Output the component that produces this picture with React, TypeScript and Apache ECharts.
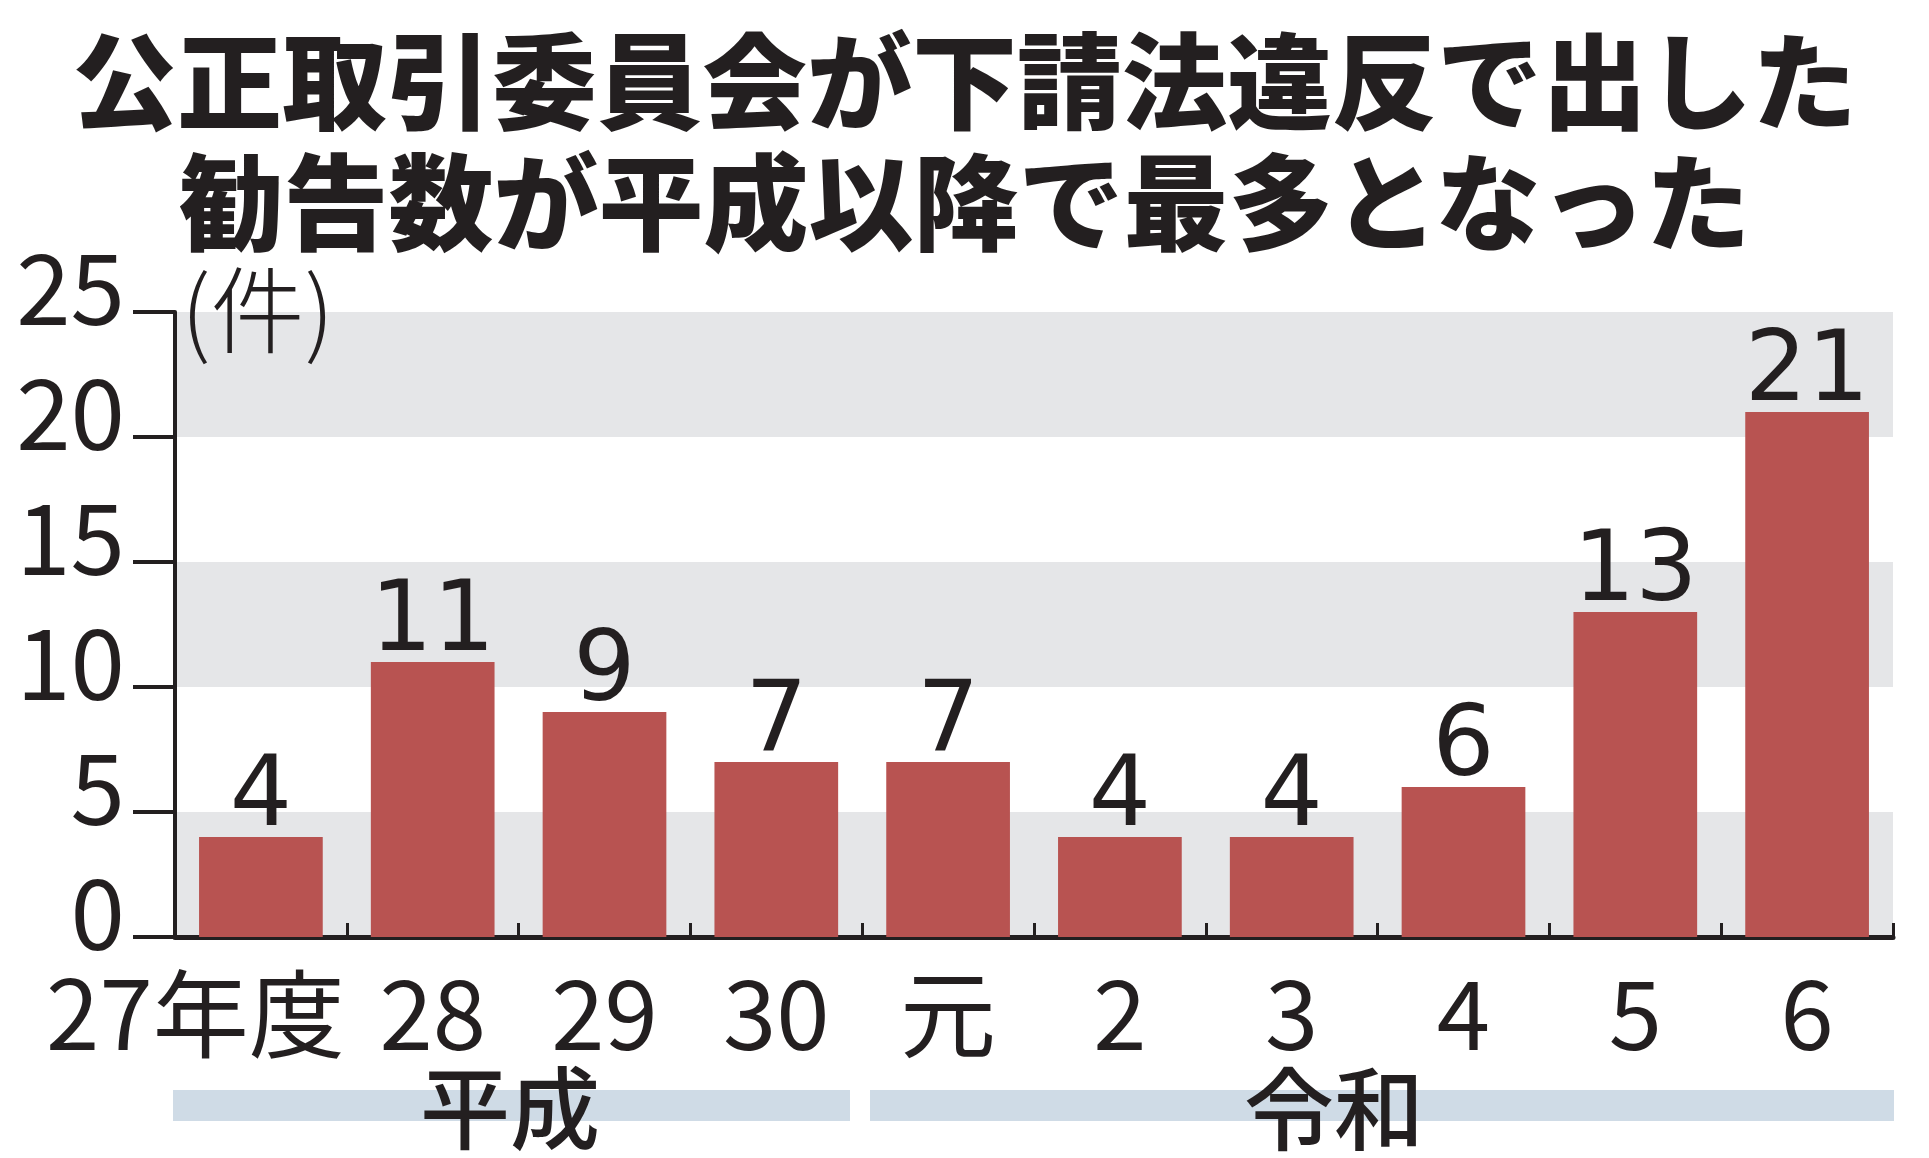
import React, { useEffect, useRef } from "react";
import * as echarts from "echarts";

const categories = ["27年度", "28", "29", "30", "元", "2", "3", "4", "5", "6"];
const values = [4, 11, 9, 7, 7, 4, 4, 6, 13, 21];
const titleLines = ["公正取引委員会が下請法違反で出した", "勧告数が平成以降で最多となった"];
const unitLabel = "(件)";
const eras = ["平成", "令和"];

const INK = "#231f20";
const NARROW = "'Liberation Sans Narrow', 'Noto Sans CJK JP', sans-serif";
const CJK = "'Noto Sans CJK JP', sans-serif";

export default function App() {
  const ref = useRef<HTMLDivElement>(null);
  useEffect(() => {
    if (!ref.current) return;
    const chart = echarts.init(ref.current, null, { renderer: "svg" });
    chart.setOption({
      animation: false,
      backgroundColor: "#ffffff",
      grid: { left: 175, right: 36, top: 312, bottom: 221, containLabel: false },
      title: {
        text: titleLines.join("\n"),
        left: "center",
        top: 9,
        textStyle: {
          fontFamily: CJK,
          fontWeight: 900,
          fontSize: 105,
          lineHeight: 121,
          color: INK,
        },
      },
      xAxis: {
        type: "category",
        data: categories.map((c, i) =>
          i === 0 ? { value: c, textStyle: { padding: [0, 131, 0, 0] } } : c
        ),
        axisLine: { show: true, lineStyle: { color: INK, width: 5 } },
        axisTick: { show: true, inside: true, length: 14, lineStyle: { color: INK, width: 3 } },
        axisLabel: {
          interval: 0,
          hideOverlap: false,
          margin: 23,
          fontFamily: NARROW,
          fontSize: 96,
          color: INK,
        },
        splitLine: { show: false },
      },
      yAxis: {
        type: "value",
        min: 0,
        max: 25,
        interval: 5,
        axisLine: { show: true, lineStyle: { color: INK, width: 4 } },
        axisTick: { show: true, inside: false, length: 42, lineStyle: { color: INK, width: 4 } },
        axisLabel: {
          margin: 50,
          fontFamily: NARROW,
          fontSize: 98,
          color: INK,
          verticalAlign: "bottom",
          lineHeight: 60,
        },
        splitLine: { show: false },
        splitArea: { show: true, areaStyle: { color: ["#e5e6e8", "#ffffff"] } },
      },
      series: [
        {
          type: "bar",
          data: values,
          barCategoryGap: "28%",
          itemStyle: { color: "#b85351" },
          label: {
            show: true,
            position: "top",
            distance: -3,
            fontFamily: "'DejaVu Sans', sans-serif",
            fontSize: 98,
            color: INK,
          },
        },
      ],
      graphic: [
        {
          type: "text",
          left: 181,
          top: 258,
          style: { text: unitLabel, fontFamily: CJK, fontWeight: 300, fontSize: 94, fill: INK },
          z: 10,
        },
        {
          type: "rect",
          shape: { x: 173, y: 1090, width: 677, height: 31 },
          style: { fill: "#cfdbe6" },
          z: 1,
        },
        {
          type: "rect",
          shape: { x: 870, y: 1090, width: 1024, height: 31 },
          style: { fill: "#cfdbe6" },
          z: 1,
        },
        {
          type: "text",
          x: 510,
          y: 1103,
          style: {
            text: eras[0],
            fontFamily: CJK,
            fontWeight: 500,
            fontSize: 90,
            fill: INK,
            align: "center",
            verticalAlign: "middle",
          },
          z: 5,
        },
        {
          type: "text",
          x: 1334,
          y: 1104,
          style: {
            text: eras[1],
            fontFamily: CJK,
            fontWeight: 500,
            fontSize: 90,
            fill: INK,
            align: "center",
            verticalAlign: "middle",
          },
          z: 5,
        },
      ],
    });
    return () => chart.dispose();
  }, []);
  return (
    <div
      ref={ref}
      style={{ position: "fixed", left: 0, top: 0, width: 1929, height: 1158 }}
    />
  );
}
